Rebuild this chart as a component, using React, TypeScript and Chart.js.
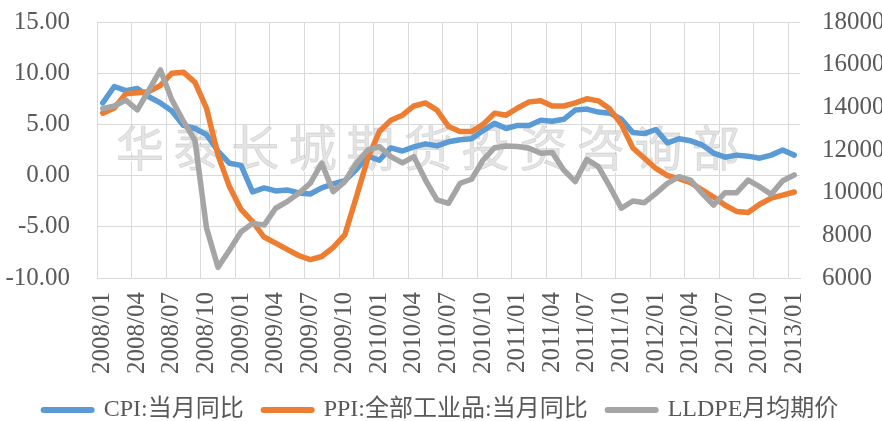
import React, { useEffect, useRef } from 'react';
import { Chart, registerables } from 'chart.js';

Chart.register(...registerables);

const months: string[] = [
  '2008/01', '2008/02', '2008/03', '2008/04', '2008/05', '2008/06', '2008/07', '2008/08', '2008/09', '2008/10', '2008/11', '2008/12',
  '2009/01', '2009/02', '2009/03', '2009/04', '2009/05', '2009/06', '2009/07', '2009/08', '2009/09', '2009/10', '2009/11', '2009/12',
  '2010/01', '2010/02', '2010/03', '2010/04', '2010/05', '2010/06', '2010/07', '2010/08', '2010/09', '2010/10', '2010/11', '2010/12',
  '2011/01', '2011/02', '2011/03', '2011/04', '2011/05', '2011/06', '2011/07', '2011/08', '2011/09', '2011/10', '2011/11', '2011/12',
  '2012/01', '2012/02', '2012/03', '2012/04', '2012/05', '2012/06', '2012/07', '2012/08', '2012/09', '2012/10', '2012/11', '2012/12',
  '2013/01',
];

const cpi: number[] = [
  7.1, 8.7, 8.3, 8.5, 7.7, 7.1, 6.3, 4.9, 4.6, 4.0, 2.4, 1.2,
  1.0, -1.6, -1.2, -1.5, -1.4, -1.7, -1.8, -1.2, -0.8, -0.5, 0.6, 1.9,
  1.5, 2.7, 2.4, 2.8, 3.1, 2.9, 3.3, 3.5, 3.6, 4.4, 5.1, 4.6,
  4.9, 4.9, 5.4, 5.3, 5.5, 6.4, 6.5, 6.2, 6.1, 5.5, 4.2, 4.1,
  4.5, 3.2, 3.6, 3.4, 3.0, 2.2, 1.8, 2.0, 1.9, 1.7, 2.0, 2.5,
  2.0,
];

const ppi: number[] = [
  6.1, 6.6, 8.0, 8.1, 8.2, 8.8, 10.0, 10.1, 9.1, 6.6, 2.0, -1.1,
  -3.3, -4.5, -6.0, -6.6, -7.2, -7.8, -8.2, -7.9, -7.0, -5.8, -2.1, 1.7,
  4.3, 5.4, 5.9, 6.8, 7.1, 6.4, 4.8, 4.3, 4.3, 5.0, 6.1, 5.9,
  6.6, 7.2, 7.3, 6.8, 6.8, 7.1, 7.5, 7.3, 6.5, 5.0, 2.7, 1.7,
  0.7, 0.0, -0.3, -0.7, -1.4, -2.1, -2.9, -3.5, -3.6, -2.8, -2.2, -1.9,
  -1.6,
];

const lldpe: number[] = [
  13940, 14060, 14340, 13880, 14800, 15750, 14350, 13350, 12450, 8350, 6500, 7310,
  8170, 8560, 8480, 9270, 9580, 9970, 10440, 11380, 10050, 10520, 11380, 12000,
  12160, 11690, 11400, 11690, 10590, 9660, 9500, 10440, 10630, 11530, 12110, 12190,
  12160, 12080, 11850, 11880, 11060, 10520, 11560, 11220, 10280, 9270, 9610, 9530,
  9970, 10440, 10750, 10590, 9970, 9420, 10000, 10000, 10590, 10280, 9920, 10560,
  10830,
];

const seriesNames: string[] = ['CPI:当月同比', 'PPI:全部工业品:当月同比', 'LLDPE月均期价'];
const seriesColors: string[] = ['#5B9BD5', '#ED7D31', '#A5A5A5'];
const watermarkText = '华泰长城期货投资咨询部';

const FONT = '"Liberation Serif", "Noto Sans CJK SC", serif';
const TEXT = '#595959';
const GRID = '#d9d9d9';

const watermarkPlugin = {
  id: 'watermark',
  beforeDatasetsDraw(chart: any) {
    const ctx = chart.ctx as CanvasRenderingContext2D;
    const a = chart.chartArea;
    const chars = Array.from(watermarkText);
    const pitch = 57.6;
    const x0 = a.left + 43;
    const y = a.top + 126;
    ctx.save();
    ctx.font = '48px "Noto Sans CJK SC", serif';
    ctx.textAlign = 'center';
    ctx.textBaseline = 'middle';
    chars.forEach((c, i) => {
      const x = x0 + i * pitch;
      ctx.fillStyle = 'rgba(255,255,255,0.9)';
      ctx.fillText(c, x + 1.5, y + 1.5);
      ctx.fillStyle = 'rgba(205,205,205,0.55)';
      ctx.fillText(c, x, y);
      ctx.strokeStyle = 'rgba(170,170,170,0.35)';
      ctx.lineWidth = 0.8;
      ctx.strokeText(c, x, y);
    });
    ctx.restore();
  },
};

export default function App() {
  const ref = useRef<HTMLCanvasElement>(null);

  useEffect(() => {
    document.body.style.margin = '0';
    const datasets = [cpi, ppi, lldpe].map((d, i) => ({
      label: seriesNames[i],
      data: d,
      borderColor: seriesColors[i],
      backgroundColor: seriesColors[i],
      yAxisID: i === 2 ? 'y1' : 'y',
      order: 3 - i,
      borderWidth: 5.5,
      pointRadius: 0,
      tension: 0,
      borderJoinStyle: 'round' as const,
      borderCapStyle: 'round' as const,
    }));

    const chart = new Chart(ref.current!, {
      type: 'line',
      data: { labels: months, datasets },
      options: {
        animation: false,
        responsive: false,
        layout: { padding: { top: 22, left: 0, right: 0, bottom: -11 } },
        plugins: {
          tooltip: { enabled: false },
          legend: {
            position: 'bottom',
            labels: {
              usePointStyle: true,
              pointStyleWidth: 48,
              boxHeight: 6,
              padding: 20,
              color: TEXT,
              font: { family: FONT, size: 24 },
              generateLabels: (c: any) =>
                c.data.datasets.map((ds: any, i: number) => ({
                  text: ds.label,
                  pointStyle: 'line',
                  strokeStyle: ds.borderColor,
                  fillStyle: ds.borderColor,
                  lineWidth: 6,
                  lineCap: 'round',
                  datasetIndex: i,
                  hidden: false,
                  fontColor: TEXT,
                })),
            },
          },
        },
        scales: {
          x: {
            offset: true,
            grid: {
              offset: true,
              drawTicks: false,
              color: (ctx: any) => (typeof ctx.index === 'number' && ctx.index % 3 === 0 ? GRID : 'rgba(0,0,0,0)'),
              lineWidth: 1,
            },
            border: { color: GRID },
            ticks: {
              autoSkip: false,
              maxRotation: 90,
              minRotation: 90,
              padding: 14,
              color: TEXT,
              font: { family: FONT, size: 25 },
              callback: (_v: any, idx: number) => (idx % 3 === 0 ? months[idx] : ''),
            },
            afterFit: (s: any) => {
              s.height = 100;
            },
          },
          y: {
            position: 'left',
            min: -10,
            max: 15,
            grid: { color: GRID, drawTicks: false },
            border: { display: false },
            ticks: {
              stepSize: 5,
              padding: 27,
              color: TEXT,
              font: { family: FONT, size: 25 },
              callback: (v: any) => Number(v).toFixed(2),
            },
            afterFit: (s: any) => {
              s.width = 97;
              s.paddingTop = 0;
              s.paddingBottom = 0;
            },
          },
          y1: {
            position: 'right',
            min: 6000,
            max: 18000,
            grid: { display: false, drawTicks: false },
            border: { display: false },
            ticks: {
              stepSize: 2000,
              padding: 22,
              color: TEXT,
              font: { family: FONT, size: 25 },
              callback: (v: any) => String(v),
            },
            afterFit: (s: any) => {
              s.width = 82;
              s.paddingTop = 0;
              s.paddingBottom = 0;
            },
          },
        },
      },
      plugins: [watermarkPlugin],
    });
    return () => chart.destroy();
  }, []);

  return (
    <div style={{ position: 'absolute', left: 0, top: 0, width: 882, height: 421, background: '#fff' }}>
      <canvas ref={ref} width={882} height={421} style={{ display: 'block' }} />
    </div>
  );
}
